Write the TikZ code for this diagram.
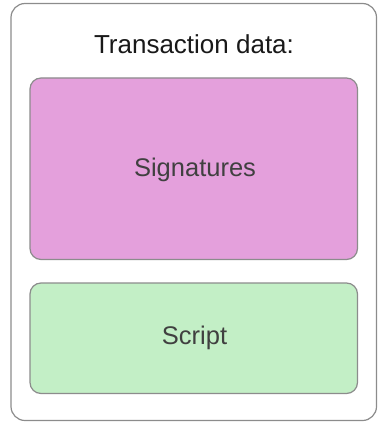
\documentclass[tikz,border=0pt]{standalone}
\usepackage{fontspec}
\setmainfont{Liberation Sans}
\definecolor{pinkfill}{HTML}{E4A0DC}
\definecolor{greenfill}{HTML}{C3EFC6}
\definecolor{edgegray}{HTML}{8C8C8C}
\definecolor{textgray}{HTML}{404040}
\begin{document}
\begin{tikzpicture}[x=1pt,y=-1pt,
  outerbox/.style={draw=edgegray,line width=1.2pt,rounded corners=14pt,fill=white},
  innerbox/.style={draw=edgegray,line width=1.2pt,rounded corners=11pt},
  lbl/.style={font=\fontsize{25.5}{30}\selectfont,text=textgray}]
\useasboundingbox (0,0) rectangle (378,422);
\draw[outerbox] (11,3.5) rectangle (376.5,420.5);
\node[font=\fontsize{26}{30}\selectfont,text=black!90] (title) at (194,44.5) {Transaction data:};
\draw[innerbox,fill=pinkfill] (30,78) rectangle (357.5,259.5);
\node[lbl] (sig) at (195,170) {Signatures};
\draw[innerbox,fill=greenfill] (30,283) rectangle (357.5,393.5);
\node[lbl] (scr) at (194.5,338) {Script};
\end{tikzpicture}
\end{document}
